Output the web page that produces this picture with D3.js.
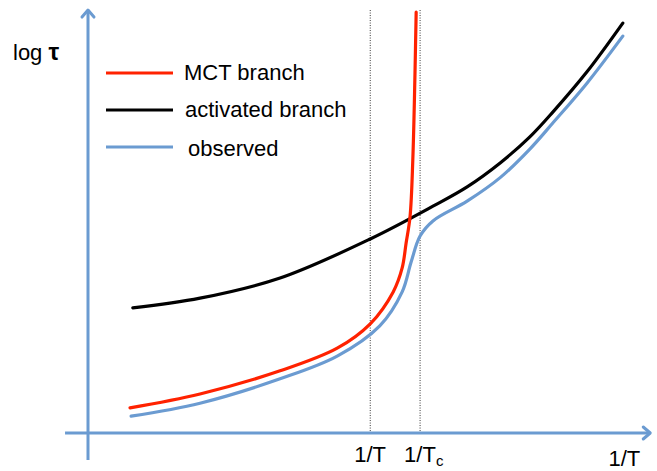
<!DOCTYPE html>
<html>
<head>
<meta charset="utf-8">
<script src="https://cdn.jsdelivr.net/npm/d3@7"></script>
<style>
  html, body { margin: 0; padding: 0; background: #fff; }
  svg { display: block; }
  text { font-family: "Liberation Sans", Arial, Helvetica, sans-serif; fill: #000; }
</style>
</head>
<body>
<script>
// ---- data (arbitrary units: x = 1/T, y = log tau) ----
const mctX = [0.75, 2.0, 3.43, 4.45, 5.04, 5.45, 5.61, 5.68, 5.75, 5.80, 5.86];
const mctY = [0.60, 0.93, 1.48, 2.02, 2.60, 3.36, 3.93, 4.52, 5.14, 6.50, 10.02];

const actX = [0.80, 2.0, 3.43, 5.04, 6.16, 6.77, 7.36, 7.89, 8.30, 8.91, 9.55];
const actY = [2.98, 3.21, 3.69, 4.62, 5.40, 5.86, 6.43, 7.05, 7.64, 8.60, 9.76];

const obsX = [0.77, 2.0, 3.43, 4.45, 5.21, 5.61, 5.77, 5.93, 6.16, 6.77, 7.36, 7.89, 8.30, 8.91, 9.55];
const obsY = [0.40, 0.71, 1.29, 1.83, 2.55, 3.36, 4.07, 4.69, 5.05, 5.52, 6.08, 6.76, 7.38, 8.33, 9.45];

const seriesNames = ["MCT branch", "activated branch", "observed"];
const markX = [5.04, 5.93];           // 1/T and 1/Tc guide positions
const markLabels = ["1/T", "1/T"];
const markSubs = ["", "c"];
const xAxisLabel = "1/T";
const yAxisLabel = ["log ", "τ"];

// ---- layout ----
const W = 657, H = 471;
const x = d3.scaleLinear().domain([0, 10]).range([88, 648]);
const y = d3.scaleLinear().domain([0, 10]).range([433, 13]);
const xMin = -0.41, xMax = 10.04, yMin = -0.64, yMax = 10.07;

const axisColor = "#6b9bd1";
const colors = ["#ff2200", "#000000", "#6b9bd1"];

const svg = d3.select("body").append("svg").attr("width", W).attr("height", H);

// guide dotted lines
svg.append("g").selectAll("line").data(markX).join("line")
  .attr("x1", d => x(d)).attr("x2", d => x(d))
  .attr("y1", y(yMax)).attr("y2", y(0))
  .attr("stroke", "#333").attr("stroke-width", 1)
  .attr("stroke-dasharray", "1,1.5");

// axes
const ax = svg.append("g").attr("stroke", axisColor).attr("stroke-width", 3).attr("fill", "none")
  .attr("stroke-linecap", "round").attr("stroke-linejoin", "round");
ax.append("line").attr("x1", x(xMin)).attr("x2", x(xMax)).attr("y1", y(0)).attr("y2", y(0)).attr("stroke-linecap", "butt");
ax.append("line").attr("x1", x(0)).attr("x2", x(0)).attr("y1", y(yMin)).attr("y2", y(yMax)).attr("stroke-linecap", "butt");
ax.append("path").attr("d", `M${x(xMax)-7},${y(0)-6} L${x(xMax)},${y(0)} L${x(xMax)-7},${y(0)+6}`);
ax.append("path").attr("d", `M${x(0)-6},${y(yMax)+7} L${x(0)},${y(yMax)} L${x(0)+6},${y(yMax)+7}`);

// curves
const line = d3.line().x(d => x(d[0])).y(d => y(d[1])).curve(d3.curveCatmullRom.alpha(0.5));
const series = [
  d3.zip(mctX, mctY),
  d3.zip(actX, actY),
  d3.zip(obsX, obsY)
];
const drawOrder = [2, 1, 0];
svg.append("g").selectAll("path").data(drawOrder).join("path")
  .attr("d", i => line(series[i]))
  .attr("fill", "none")
  .attr("stroke", i => colors[i])
  .attr("stroke-width", 3.2)
  .attr("stroke-linecap", "round");

// legend
const legY = [73, 110, 147];
const leg = svg.append("g");
seriesNames.forEach((name, i) => {
  leg.append("line").attr("x1", 106).attr("x2", 173).attr("y1", legY[i]).attr("y2", legY[i])
    .attr("stroke", colors[i]).attr("stroke-width", 3);
  leg.append("text").attr("x", 184 + (i === 2 ? 4 : i)).attr("y", legY[i] + 7 + (i === 2 ? 2 : 0))
    .attr("font-size", 22).text(name);
});

// tick labels for guides
markX.forEach((m, i) => {
  const t = svg.append("text").attr("x", x(m) - 16).attr("y", 462).attr("font-size", 22);
  t.append("tspan").text(markLabels[i]);
  if (markSubs[i]) t.append("tspan").attr("font-size", 15).attr("dy", 4).text(markSubs[i]);
});

// axis labels
svg.append("text").attr("x", x(xMax) - 10).attr("y", 466).attr("text-anchor", "end")
  .attr("font-size", 22).text(xAxisLabel);
const yl = svg.append("text").attr("x", 13).attr("y", 60).attr("font-size", 22);
yl.append("tspan").text(yAxisLabel[0]);
yl.append("tspan").attr("font-weight", "bold").attr("font-size", 24).text(yAxisLabel[1]);
</script>
</body>
</html>
